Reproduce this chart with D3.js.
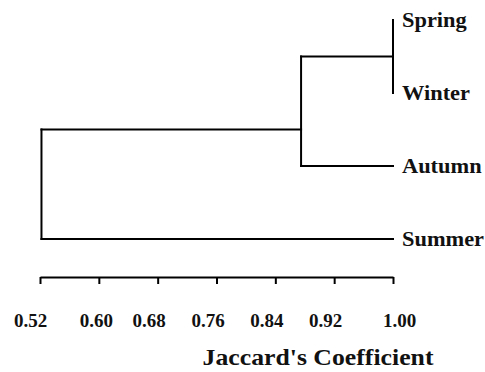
<!DOCTYPE html>
<html>
<head>
<meta charset="utf-8">
<script src="https://cdn.jsdelivr.net/npm/d3@7/dist/d3.min.js"></script>
<style>
  html, body { margin: 0; padding: 0; background: #fff; }
  svg { display: block; }
  text { font-family: "Liberation Serif", "Times New Roman", serif; font-weight: bold; fill: #111; }
</style>
</head>
<body>
<svg id="chart" width="485" height="372"></svg>
<script>
// Leaves in display order (top to bottom)
const leaves = ["Spring", "Winter", "Autumn", "Summer"];

// Agglomeration steps: cluster A joins cluster B at the given Jaccard similarity
const mergeNames = ["SW", "SWA", "root"];
const mergeA = ["Spring", "SW", "SWA"];
const mergeB = ["Winter", "Autumn", "Summer"];
const mergeSimilarity = [1.00, 0.875, 0.522];

// Axis ticks
const tickValues = [0.52, 0.60, 0.68, 0.76, 0.84, 0.92, 1.00];
const axisTitle = "Jaccard's Coefficient";

const svg = d3.select("#chart");

const x = d3.scaleLinear().domain([0.52, 1.00]).range([40, 393]);
const row = d3.scalePoint().domain(leaves).range([20, 239]);

// Build node lookup: leaves sit at similarity 1.00
const nodes = {};
leaves.forEach(name => {
  nodes[name] = { name, h: 1.00, y: row(name), first: name, last: name };
});
mergeNames.forEach((name, i) => {
  const a = nodes[mergeA[i]], b = nodes[mergeB[i]];
  nodes[name] = {
    name, h: mergeSimilarity[i], a, b,
    first: a.first, last: b.last,
    // stem sits between the two leaves that meet at the split
    y: (row(a.last) + row(b.first)) / 2
  };
});

const g = svg.append("g")
  .attr("fill", "none")
  .attr("stroke", "#000")
  .attr("stroke-width", 2)
  .attr("stroke-linecap", "square");

mergeNames.forEach(name => {
  const n = nodes[name];
  const xn = x(n.h);
  // vertical connector
  g.append("line")
    .attr("x1", xn).attr("x2", xn)
    .attr("y1", n.a.y).attr("y2", n.b.y);
  // horizontal branches to each child
  [n.a, n.b].forEach(c => {
    if (x(c.h) > xn) {
      g.append("line")
        .attr("x1", xn).attr("x2", x(c.h))
        .attr("y1", c.y).attr("y2", c.y);
    }
  });
});

// Leaf labels (wide bold serif)
svg.append("g").selectAll("text")
  .data(leaves)
  .join("text")
  .attr("transform", d => `translate(${x(1.00) + 9},${row(d) + 7}) scale(1.12,1)`)
  .attr("font-size", 20)
  .text(d => d);

// Bottom axis
const labelNudge = { "0.52": -10, "0.60": -3, "1.00": 6 };
const axis = d3.axisBottom(x)
  .tickValues(tickValues)
  .tickFormat(d3.format(".2f"))
  .tickSize(7)
  .tickSizeOuter(0)
  .tickPadding(30);

const ax = svg.append("g")
  .attr("transform", "translate(0,277)")
  .call(axis);
ax.select(".domain").attr("stroke", "#000").attr("stroke-width", 2);
ax.selectAll(".tick line").attr("stroke", "#000").attr("stroke-width", 2);
ax.selectAll(".tick text")
  .attr("font-family", "Liberation Serif, Times New Roman, serif")
  .attr("font-weight", "bold")
  .attr("font-size", 19)
  .attr("fill", "#111")
  .attr("dx", d => {
    const k = d3.format(".2f")(d);
    return k in labelNudge ? labelNudge[k] : -9;
  });

svg.append("text")
  .attr("transform", "translate(318,365) scale(1.12,1)")
  .attr("text-anchor", "middle")
  .attr("font-size", 23)
  .text(axisTitle);
</script>
</body>
</html>
